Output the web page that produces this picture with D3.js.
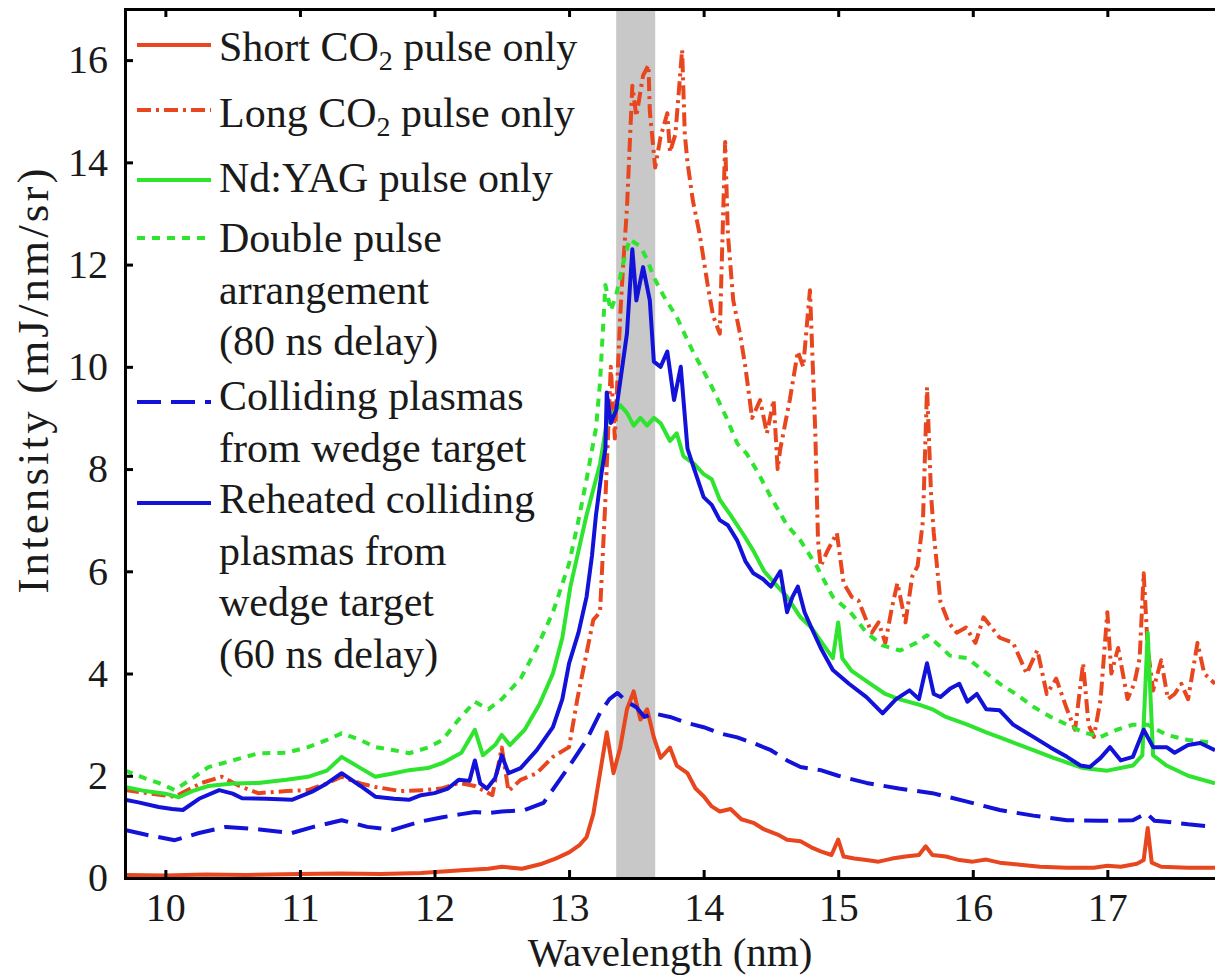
<!DOCTYPE html>
<html lang="en">
<head>
  <meta charset="UTF-8">
  <title>EUV spectra</title>
  <style>
    body {
      margin: 0;
      background: #fff;
      overflow: hidden;
    }

    svg {
      font-family: 'Liberation Serif', 'Times New Roman', serif;
    }

    .axis path,
    .axis line {
      stroke: #000;
      stroke-width: 3px;
    }

    .axis text {
      font-size: 40px;
      fill: #1a1a1a;
      font-family: 'Liberation Serif', serif;
    }

    .legend text {
      font-size: 42px;
      fill: #1a1a1a;
    }

    .title {
      font-size: 41px;
      fill: #1a1a1a;
    }
  </style>
</head>
<body>
  <svg width="1215" height="976"></svg>

  <script src="https://d3js.org/d3.v7.min.js"></script>
  <script>
    // [wavelength (nm), intensity (mJ/nm/sr)]
    var shortCO2 = [
      [9.7,0.06],[10.0,0.05],[10.3,0.07],[10.6,0.06],[11.0,0.08],[11.3,0.09],[11.6,0.08],[11.9,0.1],
      [12.2,0.15],[12.4,0.18],[12.5,0.22],[12.65,0.18],[12.8,0.28],[12.9,0.38],[13.0,0.5],[13.08,0.65],
      [13.13,0.8],[13.18,1.25],[13.23,2.05],[13.28,2.85],[13.33,2.05],[13.38,2.55],[13.43,3.3],[13.48,3.65],
      [13.53,3.1],[13.58,3.3],[13.63,2.75],[13.68,2.35],[13.75,2.55],[13.8,2.2],[13.88,2.05],[13.94,1.75],
      [14.0,1.6],[14.06,1.4],[14.12,1.3],[14.2,1.35],[14.28,1.15],[14.37,1.08],[14.45,0.95],[14.55,0.85],
      [14.62,0.75],[14.72,0.72],[14.8,0.6],[14.87,0.52],[14.95,0.45],[15.0,0.75],[15.04,0.42],[15.12,0.38],
      [15.21,0.35],[15.3,0.32],[15.4,0.38],[15.5,0.42],[15.6,0.45],[15.65,0.62],[15.7,0.45],[15.8,0.42],
      [15.9,0.35],[16.0,0.32],[16.1,0.36],[16.2,0.3],[16.35,0.26],[16.5,0.22],[16.7,0.2],[16.9,0.2],
      [17.0,0.24],[17.1,0.22],[17.22,0.28],[17.27,0.35],[17.3,0.98],[17.33,0.3],[17.4,0.22],[17.6,0.2],[17.8,0.2]
    ];

    var longCO2 = [
      [9.7,1.72],[9.9,1.65],[10.07,1.59],[10.27,1.86],[10.42,1.98],[10.55,1.8],[10.69,1.66],[10.9,1.7],
      [11.06,1.72],[11.2,1.85],[11.31,1.98],[11.45,1.85],[11.56,1.78],[11.75,1.7],[11.93,1.72],[12.05,1.75],
      [12.18,1.86],[12.3,1.8],[12.43,1.62],[12.5,2.55],[12.55,1.7],[12.64,1.92],[12.76,2.05],[12.88,2.37],
      [13.0,2.56],[13.06,3.48],[13.13,4.4],[13.18,5.05],[13.23,5.2],[13.27,7.4],[13.31,10.0],[13.34,8.6],
      [13.38,11.0],[13.4,11.9],[13.43,13.1],[13.47,15.5],[13.5,14.9],[13.55,15.7],[13.59,15.9],[13.6,15.0],
      [13.64,13.9],[13.68,14.5],[13.73,14.96],[13.75,14.2],[13.79,14.55],[13.81,15.2],[13.84,16.2],[13.86,14.55],
      [13.88,14.0],[13.92,13.25],[13.97,12.6],[14.03,11.6],[14.07,11.0],[14.12,10.65],[14.16,14.4],[14.18,12.6],
      [14.22,11.3],[14.27,10.65],[14.31,10.0],[14.36,9.0],[14.42,9.35],[14.47,8.7],[14.52,9.35],[14.55,8.0],
      [14.57,8.4],[14.64,9.35],[14.7,10.3],[14.74,10.0],[14.79,11.5],[14.83,8.7],[14.85,6.6],[14.87,6.1],
      [14.92,6.4],[14.99,6.75],[15.04,5.77],[15.1,5.5],[15.15,5.43],[15.2,5.1],[15.25,4.8],[15.3,5.0],
      [15.35,4.6],[15.4,5.3],[15.44,5.77],[15.5,5.0],[15.55,5.9],[15.59,6.1],[15.63,7.0],[15.66,9.6],
      [15.69,7.5],[15.71,6.75],[15.76,5.4],[15.82,5.0],[15.88,4.8],[15.95,4.9],[16.02,4.6],[16.08,5.1],
      [16.2,4.7],[16.3,4.6],[16.4,4.0],[16.48,4.46],[16.55,3.6],[16.62,3.9],[16.7,3.3],[16.76,2.9],
      [16.82,4.2],[16.86,3.0],[16.9,2.76],[16.95,3.5],[17.0,5.2],[17.03,4.0],[17.08,4.5],[17.15,3.5],
      [17.2,3.8],[17.24,4.3],[17.27,5.96],[17.3,4.5],[17.34,3.67],[17.4,4.26],[17.45,3.5],[17.5,3.6],
      [17.55,3.8],[17.6,3.5],[17.67,4.6],[17.72,4.0],[17.8,3.8]
    ];

    var ndYAG = [
      [9.7,1.78],[9.85,1.7],[10.0,1.65],[10.1,1.58],[10.2,1.7],[10.32,1.8],[10.5,1.85],[10.69,1.86],
      [10.9,1.92],[11.06,1.98],[11.2,2.1],[11.31,2.37],[11.45,2.15],[11.56,1.98],[11.7,2.05],[11.81,2.11],
      [11.95,2.15],[12.06,2.25],[12.2,2.45],[12.3,2.9],[12.36,2.4],[12.45,2.6],[12.5,2.8],[12.56,2.6],
      [12.67,2.9],[12.78,3.4],[12.88,4.0],[12.95,4.7],[13.01,5.7],[13.07,6.4],[13.13,7.1],[13.18,7.6],
      [13.23,8.1],[13.28,8.9],[13.33,9.1],[13.38,9.25],[13.43,9.1],[13.48,8.85],[13.53,9.0],[13.58,8.85],
      [13.63,9.0],[13.68,8.9],[13.75,8.55],[13.8,8.7],[13.85,8.25],[13.93,8.1],[14.0,7.9],[14.06,7.8],
      [14.12,7.4],[14.2,7.1],[14.3,6.7],[14.37,6.4],[14.45,6.0],[14.55,5.7],[14.62,5.5],[14.72,5.1],
      [14.8,4.9],[14.88,4.6],[14.96,4.3],[15.0,5.0],[15.03,4.3],[15.1,4.05],[15.21,3.85],[15.35,3.6],
      [15.45,3.5],[15.59,3.4],[15.7,3.3],[15.8,3.15],[15.96,3.0],[16.1,2.85],[16.25,2.7],[16.45,2.5],
      [16.6,2.35],[16.82,2.15],[17.0,2.1],[17.19,2.2],[17.26,2.4],[17.3,4.8],[17.34,2.4],[17.44,2.2],
      [17.6,2.0],[17.8,1.85]
    ];

    var doublePulse = [
      [9.7,2.1],[9.85,1.95],[9.95,1.86],[10.07,1.72],[10.2,1.95],[10.32,2.17],[10.5,2.3],[10.69,2.44],
      [10.9,2.45],[11.06,2.56],[11.2,2.7],[11.31,2.83],[11.45,2.7],[11.56,2.56],[11.7,2.5],[11.81,2.44],
      [11.95,2.55],[12.06,2.7],[12.18,3.1],[12.3,3.45],[12.4,3.3],[12.5,3.5],[12.64,3.9],[12.76,4.5],
      [12.88,5.2],[13.0,6.15],[13.07,7.0],[13.13,7.8],[13.2,8.8],[13.23,9.7],[13.27,11.6],[13.31,11.1],
      [13.35,11.4],[13.4,12.0],[13.45,12.5],[13.53,12.35],[13.58,12.1],[13.63,11.75],[13.7,11.4],[13.8,10.97],
      [13.92,10.3],[14.05,9.67],[14.17,9.0],[14.25,8.5],[14.32,8.3],[14.4,7.95],[14.5,7.45],[14.62,6.9],
      [14.72,6.6],[14.84,6.1],[14.96,5.5],[15.09,5.2],[15.21,4.8],[15.33,4.55],[15.46,4.45],[15.58,4.6],
      [15.66,4.75],[15.75,4.55],[15.83,4.35],[15.96,4.3],[16.08,4.05],[16.2,3.8],[16.32,3.6],[16.45,3.35],
      [16.58,3.15],[16.7,3.0],[16.82,2.85],[16.95,2.76],[17.07,2.9],[17.19,3.0],[17.3,3.0],[17.44,2.8],
      [17.6,2.7],[17.8,2.64]
    ];

    var colliding = [
      [9.7,0.94],[9.85,0.85],[10.07,0.74],[10.25,0.88],[10.45,1.0],[10.7,0.95],[10.94,0.88],[11.1,1.0],
      [11.31,1.13],[11.5,1.0],[11.69,0.94],[11.89,1.1],[12.06,1.19],[12.2,1.25],[12.3,1.29],[12.39,1.27],
      [12.5,1.3],[12.67,1.33],[12.81,1.47],[12.93,1.92],[13.03,2.3],[13.13,2.7],[13.23,3.23],[13.3,3.5],
      [13.36,3.62],[13.43,3.45],[13.5,3.34],[13.56,3.15],[13.63,3.22],[13.75,3.15],[13.88,3.03],[14.0,2.95],
      [14.12,2.83],[14.25,2.75],[14.37,2.64],[14.5,2.5],[14.62,2.3],[14.72,2.17],[14.87,2.11],[15.0,2.0],
      [15.21,1.86],[15.45,1.75],[15.7,1.66],[15.95,1.5],[16.2,1.33],[16.45,1.22],[16.7,1.13],[16.95,1.12],
      [17.19,1.13],[17.29,1.27],[17.35,1.12],[17.44,1.1],[17.6,1.05],[17.8,1.0]
    ];

    var reheated = [
      [9.7,1.53],[9.8,1.48],[9.95,1.39],[10.05,1.35],[10.13,1.33],[10.25,1.55],[10.4,1.72],[10.5,1.65],
      [10.57,1.56],[10.75,1.55],[10.94,1.53],[11.1,1.7],[11.2,1.85],[11.31,2.05],[11.45,1.8],[11.56,1.59],
      [11.7,1.55],[11.81,1.53],[11.9,1.62],[12.0,1.66],[12.1,1.75],[12.18,1.92],[12.26,1.9],[12.3,2.3],
      [12.34,1.85],[12.39,1.75],[12.45,1.95],[12.5,2.4],[12.55,2.05],[12.64,2.15],[12.76,2.5],[12.88,2.95],
      [12.95,3.5],[13.0,4.2],[13.07,4.8],[13.13,5.5],[13.17,6.3],[13.2,7.1],[13.24,7.9],[13.27,8.4],
      [13.28,9.5],[13.31,8.9],[13.35,9.15],[13.39,9.9],[13.43,10.65],[13.47,12.3],[13.5,11.3],[13.55,11.95],
      [13.6,11.3],[13.63,10.1],[13.68,10.0],[13.73,10.3],[13.78,9.35],[13.83,10.0],[13.88,8.4],[13.93,8.0],
      [14.0,7.45],[14.06,7.3],[14.12,7.0],[14.18,6.9],[14.25,6.6],[14.31,6.2],[14.37,5.96],[14.44,5.85],
      [14.5,5.7],[14.57,6.0],[14.62,5.2],[14.66,5.5],[14.7,5.7],[14.75,5.2],[14.8,4.9],[14.87,4.5],
      [14.96,4.07],[15.08,3.8],[15.21,3.54],[15.33,3.22],[15.43,3.5],[15.53,3.67],[15.6,3.5],[15.66,4.2],
      [15.71,3.6],[15.76,3.54],[15.83,3.7],[15.9,3.8],[15.96,3.45],[16.03,3.6],[16.1,3.3],[16.2,3.28],
      [16.3,3.0],[16.45,2.76],[16.58,2.55],[16.7,2.37],[16.8,2.2],[16.87,2.17],[16.95,2.35],[17.02,2.56],
      [17.1,2.3],[17.19,2.37],[17.27,2.9],[17.34,2.56],[17.44,2.56],[17.5,2.45],[17.6,2.6],[17.69,2.64],
      [17.8,2.5]
    ];

    var xTicks = [10, 11, 12, 13, 14, 15, 16, 17];
    var yTicks = [0, 2, 4, 6, 8, 10, 12, 14, 16];
    var euvBand = [13.35, 13.64];   // grey in-band region

    // legend text, one entry per series, "_2" = subscript
    var legendLabels = [
      ["Short CO_2 pulse only"],
      ["Long CO_2 pulse only"],
      ["Nd:YAG pulse only"],
      ["Double pulse", "arrangement", "(80 ns delay)"],
      ["Colliding plasmas", "from wedge target"],
      ["Reheated colliding", "plasmas from", "wedge target", "(60 ns delay)"]
    ];

    var series = [
      { data: shortCO2,    color: "#e8461e", dash: null },
      { data: longCO2,     color: "#e8461e", dash: "14,5,3,5" },
      { data: ndYAG,       color: "#2ee42e", dash: null },
      { data: doublePulse, color: "#2ee42e", dash: "8,7" },
      { data: colliding,   color: "#1212d8", dash: "24,10" },
      { data: reheated,    color: "#1212d8", dash: null }
    ];

    var svg = d3.select("svg");
    var pLeft = 125, pRight = 1215, pTop = 9, pBottom = 878;

    var x = d3.scaleLinear().domain([9.7, 17.8]).range([pLeft, pRight]);
    var y = d3.scaleLinear().domain([0, 17]).range([pBottom, pTop]);

    svg.append("clipPath")
      .attr("id", "plot-clip")
      .append("rect")
      .attr("x", pLeft).attr("y", pTop)
      .attr("width", pRight - pLeft).attr("height", pBottom - pTop);

    var plot = svg.append("g").attr("clip-path", "url(#plot-clip)");

    plot.append("rect")
      .attr("x", x(euvBand[0]))
      .attr("y", pTop)
      .attr("width", x(euvBand[1]) - x(euvBand[0]))
      .attr("height", pBottom - pTop)
      .style("fill", "#c8c8c8");

    var line = d3.line()
      .x(function(d) { return x(d[0]); })
      .y(function(d) { return y(d[1]); });

    plot.selectAll("path.spec")
      .data(series)
      .enter()
        .append("path")
        .attr("class", "spec")
        .attr("d", function(d) { return line(d.data); })
        .style("fill", "none")
        .style("stroke", function(d) { return d.color; })
        .style("stroke-width", 4)
        .style("stroke-linejoin", "round")
        .style("stroke-dasharray", function(d) { return d.dash; });

    // axes, ticks pointing inward
    svg.append("g")
      .attr("class", "axis")
      .attr("transform", "translate(0," + pBottom + ")")
      .call(d3.axisBottom(x).tickValues(xTicks).tickSize(-8).tickSizeOuter(0).tickPadding(15).tickFormat(d3.format("d")));

    svg.append("g")
      .attr("class", "axis")
      .attr("transform", "translate(0," + pTop + ")")
      .call(d3.axisTop(x).tickValues(xTicks).tickSize(-8).tickSizeOuter(0).tickFormat(""));

    svg.append("g")
      .attr("class", "axis")
      .attr("transform", "translate(" + pLeft + ",0)")
      .call(d3.axisLeft(y).tickValues(yTicks).tickSize(-8).tickSizeOuter(0).tickPadding(17).tickFormat(d3.format("d")));

    svg.selectAll(".axis .domain").style("stroke-linecap", "square");

    svg.append("text")
      .attr("class", "title")
      .attr("x", 670)
      .attr("y", 966)
      .attr("text-anchor", "middle")
      .text("Wavelength (nm)");

    svg.append("text")
      .attr("class", "title")
      .attr("transform", "translate(48,381) rotate(-90)")
      .attr("text-anchor", "middle")
      .attr("textLength", 425)
      .attr("lengthAdjust", "spacing")
      .style("font-size", "45px")
      .text("Intensity (mJ/nm/sr)");

    // legend
    var rowLine = [45, 110, 180, 238, 402, 503];
    var rowBase = [61, 127, 192, 252, 410, 513];
    var lineGap = 51.5;

    var legend = svg.append("g").attr("class", "legend");

    legendLabels.forEach(function(lines, i) {
      var s = series[i];
      legend.append("line")
        .attr("x1", 137).attr("x2", 211)
        .attr("y1", rowLine[i]).attr("y2", rowLine[i])
        .style("stroke", s.color)
        .style("stroke-width", 4)
        .style("stroke-dasharray", s.dash);

      lines.forEach(function(txt, j) {
        var t = legend.append("text")
          .attr("x", 219)
          .attr("y", rowBase[i] + j * lineGap);
        var parts = txt.split("_2");
        if (parts.length > 1) {
          t.append("tspan").text(parts[0]);
          t.append("tspan").attr("dy", 9).style("font-size", "28px").text("2");
          t.append("tspan").attr("dy", -9).text(parts[1]);
        } else {
          t.text(txt);
        }
      });
    });
  </script>
</body>
</html>
